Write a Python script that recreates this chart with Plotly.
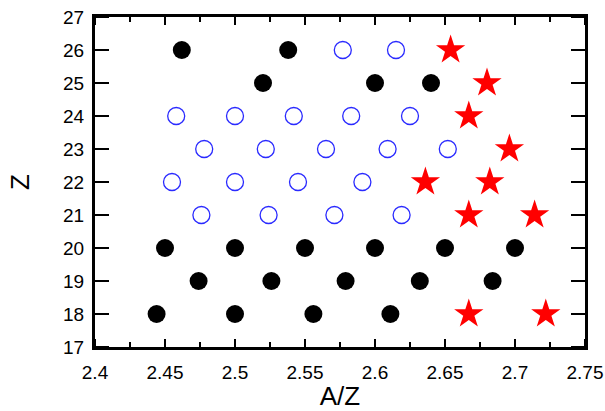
import plotly.graph_objects as go

# Filled black circles: (A/Z, Z)
black_x = [2.444, 2.500, 2.556, 2.611,
           2.474, 2.526, 2.579, 2.632, 2.684,
           2.450, 2.500, 2.550, 2.600, 2.650, 2.700,
           2.520, 2.600, 2.640,
           2.462, 2.538]
black_z = [18, 18, 18, 18,
           19, 19, 19, 19, 19,
           20, 20, 20, 20, 20, 20,
           25, 25, 25,
           26, 26]

# Open blue circles
open_x = [2.476, 2.524, 2.571, 2.619,
          2.455, 2.500, 2.545, 2.591,
          2.478, 2.522, 2.565, 2.609, 2.652,
          2.458, 2.500, 2.542, 2.583, 2.625,
          2.577, 2.615]
open_z = [21, 21, 21, 21,
          22, 22, 22, 22,
          23, 23, 23, 23, 23,
          24, 24, 24, 24, 24,
          26, 26]

# Red stars
star_x = [2.667, 2.722, 2.667, 2.714, 2.636, 2.682, 2.696, 2.667, 2.680, 2.654]
star_z = [18, 18, 21, 21, 22, 22, 23, 24, 25, 26]

x_ticks = [2.4, 2.45, 2.5, 2.55, 2.6, 2.65, 2.7, 2.75]
x_tick_text = ["2.4", "2.45", "2.5", "2.55", "2.6", "2.65", "2.7", "2.75"]
y_ticks = list(range(17, 28))

fam = "Liberation Sans, Arial, sans-serif"
x_range = [2.4, 2.75]
y_range = [17, 27]

W, H = 605, 411
M = dict(l=95, r=20, t=17, b=64)

fig = go.Figure()
fig.add_trace(go.Scatter(
    x=black_x, y=black_z, mode="markers",
    marker=dict(symbol="circle", size=18, color="black", line=dict(width=0)),
))
fig.add_trace(go.Scatter(
    x=open_x, y=open_z, mode="markers",
    marker=dict(symbol="circle-open", size=17, color="#2a2aff", line=dict(width=1.3)),
))
fig.add_trace(go.Scatter(
    x=star_x, y=star_z, mode="markers",
    marker=dict(symbol="star", size=22, color="#ff0000", line=dict(width=0)),
))

# Inward frame ticks on all four sides, built as line segments.
# Pixel lengths are converted to axis units from the plot-area size.
x_per_px = (x_range[1] - x_range[0]) / (W - M["l"] - M["r"])
y_per_px = (y_range[1] - y_range[0]) / (H - M["t"] - M["b"])
x_minor = [(a + b) / 2 for a, b in zip(x_ticks[:-1], x_ticks[1:])]

tx, ty = [], []
for xv, length in [(v, 8) for v in x_ticks] + [(v, 5) for v in x_minor]:
    d = length * y_per_px
    tx += [xv, xv, None, xv, xv, None]
    ty += [y_range[0], y_range[0] + d, None, y_range[1], y_range[1] - d, None]
for yv in y_ticks:
    d = 14 * x_per_px
    tx += [x_range[0], x_range[0] + d, None, x_range[1], x_range[1] - d, None]
    ty += [yv, yv, None, yv, yv, None]
fig.add_trace(go.Scatter(x=tx, y=ty, mode="lines", line=dict(color="black", width=2),
                         hoverinfo="skip", connectgaps=False))

fig.update_layout(
    template="none",
    width=W, height=H,
    margin=M,
    paper_bgcolor="white", plot_bgcolor="white",
    showlegend=False,
    font=dict(family=fam, color="black"),
    xaxis=dict(
        range=x_range, tickmode="array", tickvals=x_ticks, ticktext=x_tick_text,
        showgrid=False, zeroline=False, automargin=False,
        showline=True, linewidth=3, linecolor="black", mirror=True,
        ticks="", tickfont=dict(size=19, family=fam, color="black"),
        ticklabelstandoff=6,
        title=dict(text="A/Z", font=dict(size=26, family=fam, color="black"), standoff=12),
    ),
    yaxis=dict(
        range=y_range, tickmode="array", tickvals=y_ticks,
        showgrid=False, zeroline=False, automargin=False,
        showline=True, linewidth=3, linecolor="black", mirror=True,
        ticks="", tickfont=dict(size=19, family=fam, color="black"),
        ticklabelstandoff=4,
        title=dict(text="Z", font=dict(size=26, family=fam, color="black"), standoff=26),
    ),
)

fig.write_html("out.html")
